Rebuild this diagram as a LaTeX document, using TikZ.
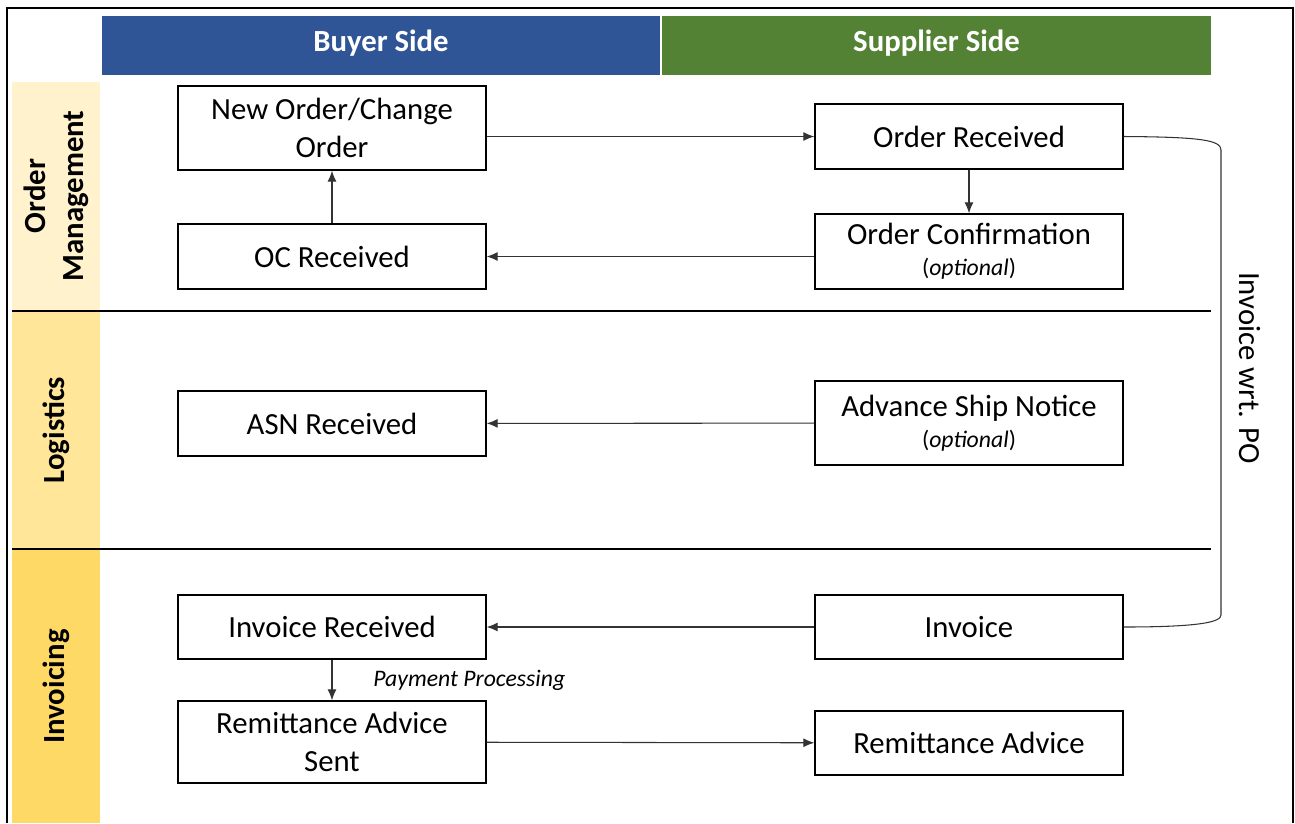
\documentclass[tikz,border=0pt]{standalone}
\usepackage{amsmath}
\usepackage{xcolor}
\usepackage{fontspec}
\setmainfont{Carlito}
\usepackage{tikz}
\definecolor{buyerblue}{HTML}{2F5597}
\definecolor{suppliergreen}{HTML}{548235}
\definecolor{laneorder}{HTML}{FFF2CC}
\definecolor{lanelogistics}{HTML}{FFE699}
\definecolor{laneinvoice}{HTML}{FFD966}
\usetikzlibrary{arrows.meta}

\tikzset{
	box/.style = {draw, line width=0.8pt, minimum width=6.16cm, align=center, font=\fontsize{17.5}{21.6}\selectfont},
	flow/.style = {line width=0.6pt, draw=black!80, -{Latex[length=2.2mm,width=1.8mm]}},
	header/.style = {text=white, font=\bfseries\fontsize{17.5}{21}\selectfont, minimum height=1.18cm, text height=12pt, text depth=5.5pt},
	lane/.style = {rotate=90, minimum height=1.76cm, align=center, font=\bfseries\fontsize{17.5}{21.6}\selectfont},
}

\begin{document}
\begin{tikzpicture}[x=0.02cm, y=-0.02cm]
			\useasboundingbox (0,0) rectangle (1295,823);
			\draw[line width=1.2pt] (7,823) -- (7,8) -- (1293,8) -- (1293,823);
			
			% column headers
			\node[header, fill = buyerblue, minimum width=11.16cm] (buyer) at (381,45.5){Buyer Side};
			\node[header, fill = suppliergreen, minimum width=10.98cm] (supplier) at (936.5,45.5){Supplier Side};
			
			% swim lanes
			\node[lane, fill = laneorder, minimum width=4.56cm] (lorder) at (56,196){Order\\Management};
			\node[lane, fill = lanelogistics, minimum width=4.72cm] (llogistics) at (56,430){Logistics};
			\node[lane, fill = laneinvoice, minimum width=5.46cm] (linvoice) at (56,686.5){Invoicing};
			\draw[line width=0.8pt] (12,311) -- (1211,311);
			\draw[line width=0.8pt] (12,549) -- (1211,549);
			
			% buyer side
			\node[box, minimum height=1.68cm] (neworder) at (332,128){New Order/Change\\Order};
			\node[box, minimum height=1.3cm] (ocrecv) at (332,256.5){OC Received};
			\node[box, minimum height=1.3cm] (asnrecv) at (332,423.5){ASN Received};
			\node[box, minimum height=1.28cm] (invrecv) at (332,627){Invoice Received};
			\node[box, minimum height=1.64cm] (remitsent) at (332,742){Remittance Advice\\Sent};
			
			% supplier side
			\node[box, minimum height=1.3cm] (orderrecv) at (969,136.5){Order Received};
			\node[box, minimum height=1.5cm] (orderconf) at (969,251.5){Order Confirmation\\[-4pt]{\fontsize{13.5}{17}\selectfont(\textit{optional})}};
			\node[box, minimum height=1.68cm] (asn) at (969,423){Advance Ship Notice\\[-4pt]{\fontsize{13.5}{17}\selectfont(\textit{optional})}};
			\node[box, minimum height=1.28cm] (invoice) at (969,627){Invoice};
			\node[box, minimum height=1.28cm] (remit) at (969,743){Remittance Advice};
			
			\draw[flow] (neworder.east |- orderrecv) -- (orderrecv);
			\draw[flow] (orderrecv) -- (orderconf);
			\draw[flow] (orderconf.west |- ocrecv) -- (ocrecv);
			\draw[flow] (ocrecv) -- (neworder);
			\draw[flow] (asn) -- (asnrecv);
			\draw[flow] (invoice) -- (invrecv);
			\draw[flow] (invrecv) -- node[right, xshift=0.7cm, font=\itshape\fontsize{13.5}{16}\selectfont] {Payment Processing} (remitsent);
			\draw[flow] (remitsent) -- (remit);
			
			% invoice against purchase order
			\draw[line width=0.6pt, draw=black!80] (orderrecv.east) .. controls (1200,137) and (1221,140) .. (1221,150) -- (1221,615) .. controls (1221,622) and (1200,627) .. (invoice.east);
			\node[rotate=-90, font=\fontsize{17.5}{21}\selectfont] (wrtpo) at (1250,368){Invoice wrt. PO};
			
			\end{tikzpicture}
\end{document}
